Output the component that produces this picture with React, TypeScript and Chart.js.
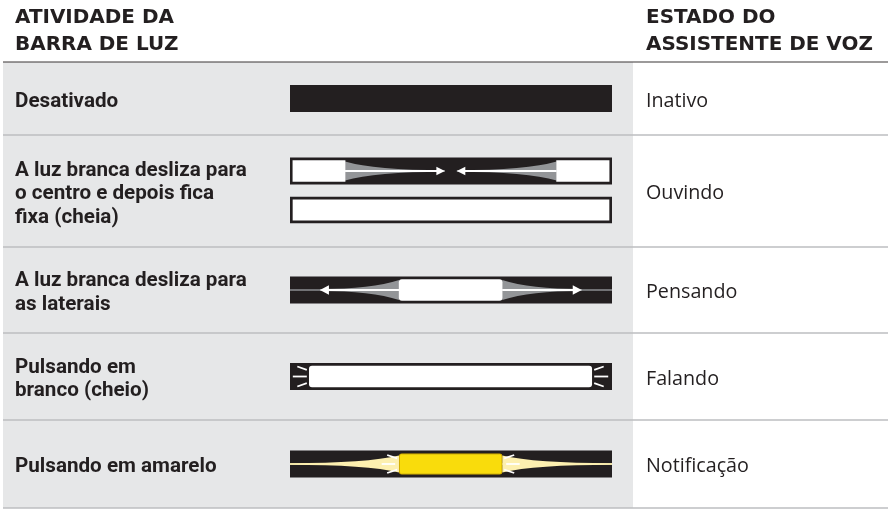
import React, { useEffect, useRef } from 'react';
import { Chart, registerables } from 'chart.js';

Chart.register(...registerables);

// ---------- data ----------
const headerActivity = ['ATIVIDADE DA', 'BARRA DE LUZ'];
const headerState = ['ESTADO DO', 'ASSISTENTE DE VOZ'];
const activities = [
  ['Desativado'],
  ['A luz branca desliza para', 'o centro e depois fica', 'fixa (cheia)'],
  ['A luz branca desliza para', 'as laterais'],
  ['Pulsando em', 'branco (cheio)'],
  ['Pulsando em amarelo'],
];
const states = ['Inativo', 'Ouvindo', 'Pensando', 'Falando', 'Notificação'];

// light bar bodies (percent of the light bar length), one per drawn bar
const laneRow = [0, 1, 1, 2, 3, 4];
const bodyStart = [0, 0, 0, 0, 0, 0];
const bodyEnd = [100, 100, 100, 100, 100, 100];
const bodyColor = ['#231f20', '#231f20', '#ffffff', '#231f20', '#231f20', '#231f20'];
const bodyBorder = [0, 0, 3, 0, 0, 0];

// lit segments (percent of the light bar length)
const lightLane = [1, 1, 3, 4, 5];
const lightStart = [0.9, 82.8, 33.9, 6.0, 33.9];
const lightEnd = [17.1, 99.1, 65.9, 93.7, 65.9];
const lightColor = ['#ffffff', '#ffffff', '#ffffff', '#ffffff', '#f9dc0c'];

// decorations (percent of the light bar length)
const ouvindoArrowTips = [48.1, 51.8];
const pensandoArrowTips = [9.3, 90.6];
const notificacaoFadeEnds = [0, 100];

// ---------- layout ----------
const W = 888;
const H = 509;
const ROW_EDGES = [62, 135, 247, 333, 420, 508];
const LANE_OFFSET = [0, -20, 19, 0, 0, 0];
const rowCenter = (r: number) => (ROW_EDGES[r] + ROW_EDGES[r + 1]) / 2;
const laneY = laneRow.map((r, i) => rowCenter(r) + LANE_OFFSET[i]);

const DARK = '#231f20';
const CONE_GRAY = '#939598';
const PALE_YELLOW = '#fdf0b0';

function fitSize(ctx: CanvasRenderingContext2D, weight: string, family: string, text: string, target: number) {
  ctx.font = `${weight} 100px ${family}`;
  const w = ctx.measureText(text).width;
  return (100 * target) / w;
}

// concave cone from x0 (half-height h0) to x1 (half-height h1)
function cone(ctx: CanvasRenderingContext2D, x0: number, x1: number, cy: number, h0: number, h1: number, a: number) {
  const cx = x0 + (x1 - x0) * a;
  ctx.beginPath();
  ctx.moveTo(x0, cy - h0);
  ctx.quadraticCurveTo(cx, cy - h1, x1, cy - h1);
  ctx.lineTo(x1, cy + h1);
  ctx.quadraticCurveTo(cx, cy + h1, x0, cy + h0);
  ctx.closePath();
  ctx.fill();
}

function arrow(ctx: CanvasRenderingContext2D, tip: number, cy: number, dir: number, len: number, half: number) {
  ctx.beginPath();
  ctx.moveTo(tip, cy);
  ctx.lineTo(tip - dir * len, cy - half);
  ctx.lineTo(tip - dir * len, cy + half);
  ctx.closePath();
  ctx.fill();
}

function line(ctx: CanvasRenderingContext2D, x0: number, y0: number, x1: number, y1: number) {
  ctx.beginPath();
  ctx.moveTo(x0, y0);
  ctx.lineTo(x1, y1);
  ctx.stroke();
}

const tablePlugin = {
  id: 'tableLayout',
  beforeDraw(chart: any) {
    const ctx: CanvasRenderingContext2D = chart.ctx;
    ctx.save();
    ctx.fillStyle = '#ffffff';
    ctx.fillRect(0, 0, W, H);
    ctx.fillStyle = '#e6e7e8';
    ctx.fillRect(3, ROW_EDGES[0], 630, ROW_EDGES[5] - ROW_EDGES[0]);
    ctx.strokeStyle = '#bcbec0';
    ctx.lineWidth = 1.5;
    for (let i = 1; i < ROW_EDGES.length; i++) line(ctx, 3, ROW_EDGES[i], W, ROW_EDGES[i]);
    ctx.strokeStyle = '#3a3637';
    ctx.lineWidth = 1.2;
    line(ctx, 3, ROW_EDGES[0], W, ROW_EDGES[0]);
    ctx.restore();
  },
  afterDatasetDraw(chart: any, args: any) {
    if (args.index !== 0) return;
    const ctx: CanvasRenderingContext2D = chart.ctx;
    const xs = (v: number) => chart.scales.x.getPixelForValue(v);
    const ys = (v: number) => chart.scales.y.getPixelForValue(v);
    ctx.save();
    // Ouvindo: grey cones converging to the centre
    let cy = ys(laneY[1]);
    ctx.fillStyle = CONE_GRAY;
    cone(ctx, xs(lightEnd[0]), xs(ouvindoArrowTips[0]), cy, 9.5, 0.8, 0.3);
    cone(ctx, xs(lightStart[1]), xs(ouvindoArrowTips[1]), cy, 9.5, 0.8, 0.3);
    // Pensando: thin centre line + cones going outward
    cy = ys(laneY[3]);
    ctx.strokeStyle = '#8d8f92';
    ctx.lineWidth = 1.5;
    line(ctx, xs(bodyStart[3]), cy, xs(bodyEnd[3]), cy);
    ctx.fillStyle = CONE_GRAY;
    cone(ctx, xs(lightStart[2]), xs(pensandoArrowTips[0]), cy, 10, 1, 0.35);
    cone(ctx, xs(lightEnd[2]), xs(pensandoArrowTips[1]), cy, 10, 1, 0.35);
    // Notificação: pale yellow glow to the ends
    cy = ys(laneY[5]);
    ctx.strokeStyle = PALE_YELLOW;
    ctx.lineWidth = 1.6;
    line(ctx, xs(notificacaoFadeEnds[0]), cy, xs(notificacaoFadeEnds[1]), cy);
    ctx.fillStyle = PALE_YELLOW;
    cone(ctx, xs(lightStart[4]), xs(notificacaoFadeEnds[0]), cy, 8.5, 0.8, 0.3);
    cone(ctx, xs(lightEnd[4]), xs(notificacaoFadeEnds[1]), cy, 8.5, 0.8, 0.3);
    ctx.restore();
  },
  afterDatasetsDraw(chart: any) {
    const ctx: CanvasRenderingContext2D = chart.ctx;
    const xs = (v: number) => chart.scales.x.getPixelForValue(v);
    const ys = (v: number) => chart.scales.y.getPixelForValue(v);
    ctx.save();
    ctx.fillStyle = '#ffffff';
    ctx.strokeStyle = '#ffffff';
    ctx.lineCap = 'butt';
    // Ouvindo arrows
    let cy = ys(laneY[1]);
    ctx.lineWidth = 2;
    line(ctx, xs(lightEnd[0]), cy, xs(ouvindoArrowTips[0]) - 6, cy);
    line(ctx, xs(lightStart[1]), cy, xs(ouvindoArrowTips[1]) + 6, cy);
    arrow(ctx, xs(ouvindoArrowTips[0]), cy, 1, 8.5, 4.2);
    arrow(ctx, xs(ouvindoArrowTips[1]), cy, -1, 8.5, 4.2);
    // Pensando arrows
    cy = ys(laneY[3]);
    line(ctx, xs(lightStart[2]), cy, xs(pensandoArrowTips[0]) + 6, cy);
    line(ctx, xs(lightEnd[2]), cy, xs(pensandoArrowTips[1]) - 6, cy);
    arrow(ctx, xs(pensandoArrowTips[0]), cy, -1, 9, 4.8);
    arrow(ctx, xs(pensandoArrowTips[1]), cy, 1, 9, 4.8);
    // Falando rays
    cy = ys(laneY[4]);
    ctx.lineWidth = 1.8;
    let l = xs(lightStart[3]);
    let r = xs(lightEnd[3]);
    line(ctx, l - 12, cy - 10, l - 2.5, cy - 6.6);
    line(ctx, l - 16.5, cy, l - 2.5, cy);
    line(ctx, l - 12, cy + 10, l - 2.5, cy + 6.6);
    line(ctx, r + 12, cy - 10, r + 2.5, cy - 6.6);
    line(ctx, r + 16.5, cy, r + 2.5, cy);
    line(ctx, r + 12, cy + 10, r + 2.5, cy + 6.6);
    // Notificação rays
    cy = ys(laneY[5]);
    l = xs(lightStart[4]);
    r = xs(lightEnd[4]);
    line(ctx, l - 12, cy - 9, l - 2, cy - 5.7);
    line(ctx, l - 17.5, cy, l - 4, cy);
    line(ctx, l - 12, cy + 9, l - 2, cy + 5.7);
    line(ctx, r + 12, cy - 9, r + 2, cy - 5.7);
    line(ctx, r + 17.5, cy, r + 4, cy);
    line(ctx, r + 12, cy + 9, r + 2, cy + 5.7);
    ctx.restore();
  },
  afterDraw(chart: any) {
    const ctx: CanvasRenderingContext2D = chart.ctx;
    ctx.save();
    ctx.fillStyle = DARK;
    ctx.textBaseline = 'alphabetic';
    ctx.textAlign = 'left';
    // headers
    const hFam = '"DejaVu Sans"';
    const hs = fitSize(ctx, '700', hFam, headerState[1], 227);
    ctx.font = `700 ${hs}px ${hFam}`;
    headerActivity.forEach((t, i) => ctx.fillText(t, 15, 23 + i * 27));
    headerState.forEach((t, i) => ctx.fillText(t, 646, 23 + i * 27));
    // left column
    const lFam = 'Roboto';
    const ls = fitSize(ctx, '700', lFam, activities[1][0], 232);
    ctx.font = `700 ${ls}px ${lFam}`;
    const lh = 23.5;
    activities.forEach((lines, r) => {
      const c = rowCenter(r);
      const first = c - ((lines.length - 1) * lh) / 2 + 8;
      lines.forEach((t, i) => ctx.fillText(t, 15, first + i * lh));
    });
    // right column
    const rFam = '"Open Sans"';
    const rs = fitSize(ctx, '400', rFam, states[4], 103);
    ctx.font = `400 ${rs}px ${rFam}`;
    states.forEach((t, r) => ctx.fillText(t, 646, rowCenter(r) + 8));
    ctx.restore();
  },
};

export default function App() {
  const ref = useRef<HTMLCanvasElement | null>(null);
  useEffect(() => {
    document.body.style.margin = '0';
    const canvas = ref.current;
    if (!canvas) return;
    const chart = new Chart(canvas, {
      type: 'bar',
      data: {
        datasets: [
          {
            label: 'Barra de luz',
            order: 2,
            data: laneY.map((y, i) => ({ y, x: [bodyStart[i], bodyEnd[i]] })) as any,
            backgroundColor: bodyColor,
            borderColor: DARK,
            borderWidth: bodyBorder,
            borderSkipped: false,
            grouped: false,
            maxBarThickness: 26.5,
            categoryPercentage: 1,
            barPercentage: 1,
          },
          {
            label: 'Luz',
            order: 1,
            data: lightLane.map((lane, i) => ({ y: laneY[lane], x: [lightStart[i], lightEnd[i]] })) as any,
            backgroundColor: lightColor,
            borderColor: lightColor.map((c) => (c === '#ffffff' ? '#ffffff' : '#c9a400')),
            borderWidth: lightColor.map((c) => (c === '#ffffff' ? 0 : 1)),
            borderRadius: lightLane.map((lane) => (lane === 1 ? 0 : 3)),
            borderSkipped: false,
            grouped: false,
            maxBarThickness: 21,
            categoryPercentage: 1,
            barPercentage: 1,
          },
        ],
      },
      options: {
        indexAxis: 'y',
        responsive: false,
        devicePixelRatio: 1,
        animation: false,
        events: [],
        layout: { padding: { left: 290, right: W - 612, top: 0, bottom: 0 } },
        scales: {
          x: { type: 'linear', min: 0, max: 100, display: false, offset: false },
          y: { type: 'linear', min: 0, max: H, reverse: true, display: false, offset: false },
        },
        plugins: { legend: { display: false }, tooltip: { enabled: false } },
      },
      plugins: [tablePlugin],
    });
    return () => chart.destroy();
  }, []);
  return (
    <div style={{ width: W, height: H }}>
      <canvas ref={ref} width={W} height={H} style={{ display: 'block' }} />
    </div>
  );
}
